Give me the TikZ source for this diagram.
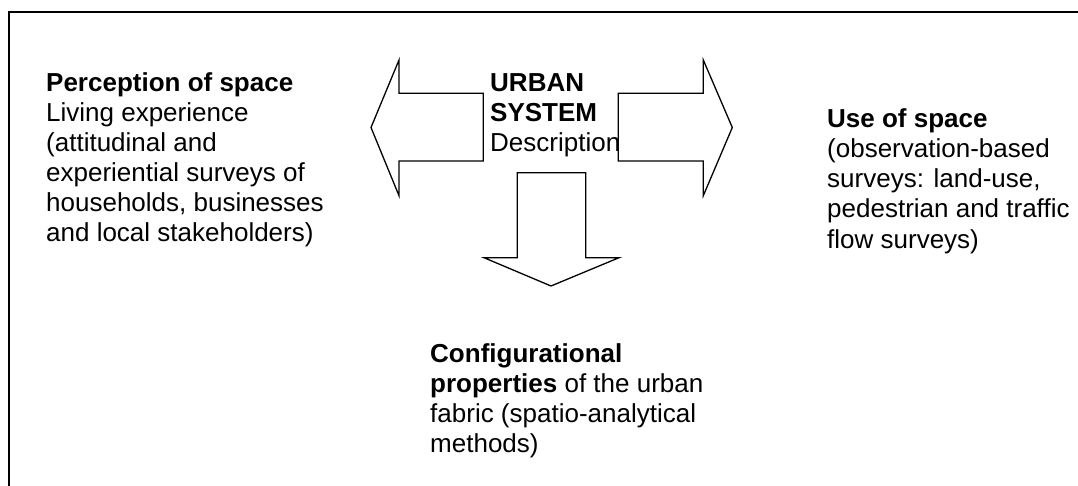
\documentclass[tikz,border=0pt]{standalone}
\usepackage{fontspec}
\setmainfont{Liberation Sans}
\begin{document}
\begin{tikzpicture}[x=1pt,y=-1pt,
  txt/.style={anchor=base west,inner sep=0pt,align=left,
    font=\fontsize{26}{30}\selectfont},
  bigarrow/.style={draw=black,line width=1.3pt,line join=miter},
  frame/.style={draw=black,line width=2pt}]
\clip (0,0) rectangle (1078,486);
\fill[white] (0,0) rectangle (1078,486);
\draw[frame] (9,12) rectangle (1100,510);
% arrows
\draw[bigarrow] (371,127.5) -- (399,60) -- (399,93.3) -- (483.3,93.3) -- (483.3,161) -- (399,161) -- (399,195.7) -- cycle;
\draw[bigarrow] (732.3,127.5) -- (703.3,60) -- (703.3,93.3) -- (618.3,93.3) -- (618.3,161) -- (703.3,161) -- (703.3,195.7) -- cycle;
\draw[bigarrow] (551,286) -- (484,257.7) -- (517.3,257.7) -- (517.3,172.7) -- (585.7,172.7) -- (585.7,257.7) -- (619,257.7) -- cycle;
% texts (anchor = baseline of the last line)
\node[txt] (perc) at (46,242) {\textbf{Perception of space}\\Living experience\\(attitudinal and\\experiential surveys of\\households, businesses\\and local stakeholders)};
\node[txt] (urban) at (490,152) {\textbf{URBAN}\\\textbf{SYSTEM}\\Description};
\node[txt] (use) at (827,248) {\textbf{Use of space}\\(observation-based\\surveys: land-use,\\pedestrian and traffic\\flow surveys)};
\node[txt] (conf) at (430,452) {\textbf{Configurational}\\\textbf{properties} of the urban\\fabric (spatio-analytical\\methods)};
\end{tikzpicture}
\end{document}
